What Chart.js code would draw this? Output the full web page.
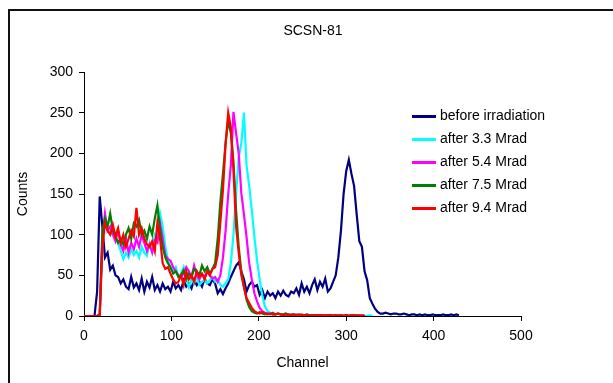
<!DOCTYPE html>
<html>
<head>
<meta charset="utf-8">
<script src="https://cdn.jsdelivr.net/npm/chart.js@4.4.1/dist/chart.umd.min.js"></script>
<style>
  html, body { margin: 0; padding: 0; overflow: hidden; background: #fff; font-family: 'Liberation Sans', Arial, sans-serif; }
  .wrap { position: relative; width: 613px; height: 383px; overflow: hidden; }
  .frame { position: absolute; left: 8px; top: 9px; width: 640px; height: 400px; border-left: 2px solid #111; border-top: 2px solid #111; border-right: none; border-bottom: none; }
  #myChart { position: absolute; left: 0; top: 0; }
  .title { position: absolute; left: 0; width: 626px; top: 22px; text-align: center; font-size: 14px; color: #000; }
  .legend { position: absolute; left: 412px; top: 104px; font-size: 14px; color: #000; }
  .legend div { height: 23px; line-height: 23px; white-space: nowrap; }
  .legend span { display: inline-block; width: 24px; height: 3px; vertical-align: middle; margin-right: 4px; }
</style>
</head>
<body>
<div class="wrap">
  <div class="frame"></div>
  <canvas id="myChart" width="613" height="383"></canvas>
  <div class="title">SCSN-81</div>
  <div class="legend" id="legend"></div>
</div>
<script>
// channel grid, step 3
const channels = [0, 3, 6, 9, 12, 15, 18, 21, 24, 27, 30, 33, 36, 39, 42, 45, 48, 51, 54, 57,
    60, 63, 66, 69, 72, 75, 78, 81, 84, 87, 90, 93, 96, 99, 102, 105, 108, 111, 114, 117,
    120, 123, 126, 129, 132, 135, 138, 141, 144, 147, 150, 153, 156, 159, 162, 165, 168, 171, 174, 177,
    180, 183, 186, 189, 192, 195, 198, 201, 204, 207, 210, 213, 216, 219, 222, 225, 228, 231, 234, 237,
    240, 243, 246, 249, 252, 255, 258, 261, 264, 267, 270, 273, 276, 279, 282, 285, 288, 291, 294, 297,
    300, 303, 306, 309, 312, 315, 318, 321, 324, 327, 330, 333, 336, 339, 342, 345, 348, 351, 354, 357,
    360, 363, 366, 369, 372, 375, 378, 381, 384, 387, 390, 393, 396, 399, 402, 405, 408, 411, 414, 417,
    420, 423, 426, 429]

const labels = ['before irradiation', 'after 3.3 Mrad', 'after 5.4 Mrad', 'after 7.5 Mrad', 'after 9.4 Mrad']
const colors = ['#000080', '#00FFFF', '#FF00FF', '#008000', '#FF0000']

const before = [0, 0, 0, 0, 0, 30, 147, 110, 72, 78,
    57, 62, 50, 48, 40, 45, 36, 33, 48, 35,
    40, 32, 46, 30, 42, 35, 48, 32, 38, 30,
    40, 33, 36, 30, 42, 34, 38, 32, 44, 36,
    40, 34, 45, 38, 42, 36, 46, 40, 38, 45,
    40, 28, 33, 27, 34, 40, 48, 55, 62, 66,
    55, 45, 30, 38, 42, 36, 38, 26, 32, 22,
    30, 25, 28, 22, 30, 25, 31, 26, 24, 30,
    28, 34, 26, 40, 30, 36, 28, 38, 45, 32,
    42, 36, 46, 30, 34, 42, 50, 72, 105, 150,
    178, 192, 175, 160, 125, 92, 85, 55, 44, 22,
    15, 9, 5, 3, 3, 4, 3, 2, 3, 3,
    2, 2, 3, 2, 1, 2, 2, 1, 2, 1,
    2, 1, 1, 2, 1, 1, 1, 2, 1, 1,
    2, 1, 2, 1]

const after33 = [0, 0, 0, 0, 0, 0, 2, 90, 122, 108,
    100, 104, 95, 90, 80, 70, 78, 72, 82, 75,
    80, 72, 85, 78, 74, 90, 82, 100, 95, 126,
    110, 85, 70, 58, 55, 60, 48, 52, 60, 45,
    35, 45, 40, 48, 38, 42, 45, 40, 44, 48,
    42, 45, 38, 36, 40, 45, 65, 100, 150, 195,
    212, 250, 185, 160, 130, 97, 68, 45, 25, 12,
    6, 4, 3, 2, 3, 2, 2, 3, 2, 1,
    2, 1, 2, 1, 1, 2, 1, 1, 1, 1,
    1, 1, 1, 0, 1, 1, 0, 1, 0, 1,
    0, 1, 0, 1, 0, 0, 1, 0, 0, 1,
    0]

const after54 = [0, 0, 0, 0, 0, 0, 2, 95, 126, 105,
    110, 100, 92, 105, 88, 80, 95, 78, 90, 82,
    95, 85, 100, 90, 80, 88, 78, 93, 90, 114,
    95, 75, 70, 68, 60, 55, 50, 48, 52, 60,
    55, 48, 62, 50, 45, 52, 48, 55, 50, 46,
    48, 42, 50, 72, 105, 150, 185, 251, 225, 200,
    151, 125, 97, 65, 45, 28, 18, 10, 6, 4,
    3, 3, 2, 2, 3, 2, 1, 2, 1, 1,
    1, 2, 1, 1, 1, 1, 1, 0, 1, 1,
    1, 0, 1, 1, 0, 1, 0, 1, 1, 0,
    1, 0, 1, 1, 0, 0, 1, 0]

const after75 = [0, 0, 0, 0, 0, 0, 2, 105, 120, 110,
    126, 105, 98, 90, 95, 88, 100, 108, 95, 114,
    110, 118, 100, 105, 95, 110, 100, 120, 136, 106,
    85, 72, 65, 60, 52, 55, 48, 50, 56, 45,
    52, 48, 58, 55, 50, 62, 55, 60, 52, 58,
    65, 95, 140, 175, 213, 240, 225, 190, 130, 85,
    55, 36, 20, 11, 6, 4, 3, 5, 3, 2,
    3, 2, 4, 2, 3, 2, 2, 3, 1, 2,
    2, 1, 2, 1, 1, 2, 1, 1, 1, 1,
    1, 1, 0, 1, 1, 0, 1, 0, 1, 0,
    1, 0, 1, 0, 1, 0, 0, 1]

const after94 = [0, 0, 0, 0, 0, 0, 0, 85, 114, 105,
    100, 112, 98, 108, 90, 100, 85, 95, 105, 98,
    133, 100, 108, 95, 88, 85, 92, 80, 115, 95,
    65, 58, 60, 52, 45, 40, 42, 50, 38, 55,
    45, 50, 42, 55, 48, 52, 45, 55, 50, 58,
    60, 75, 115, 155, 212, 250, 232, 180, 110, 78,
    50, 36, 22, 16, 10, 6, 4, 3, 5, 3,
    2, 3, 2, 2, 3, 2, 1, 2, 2, 1,
    2, 1, 1, 2, 1, 1, 1, 0, 1, 1,
    1, 1, 0, 1, 1, 0, 1, 0, 1, 0,
    1, 0, 1, 1, 0, 1, 0, 1]

const xTicks = [0, 100, 200, 300, 400, 500]
const yTicks = [0, 50, 100, 150, 200, 250, 300]

const series = [before, after33, after54, after75, after94]

function toPoints(values) {
    return values.map((v, i) => ({ x: channels[i], y: v }))
}

const datasets = series.map((values, i) => ({
    label: labels[i],
    data: toPoints(values),
    borderColor: colors[i],
    backgroundColor: colors[i],
    borderWidth: 2.2,
    pointRadius: 0,
    showLine: true,
    tension: 0,
    order: series.length - i
}))

// legend
const legend = document.getElementById('legend')
labels.forEach((l, i) => {
    const row = document.createElement('div')
    row.innerHTML = '<span style="background:' + colors[i] + '"></span>' + l
    legend.appendChild(row)
})

const font = { family: "'Liberation Sans', Arial", size: 14 }

const ctx = document.getElementById('myChart').getContext('2d')
const myChart = new Chart(ctx, {
    type: 'scatter',
    data: { datasets: datasets },
    options: {
        responsive: false,
        animation: false,
        layout: { padding: { left: 0, top: 72, right: 92, bottom: 0 } },
        plugins: {
            legend: { display: false },
            tooltip: { enabled: false }
        },
        scales: {
            x: {
                type: 'linear',
                min: 0,
                max: 500,
                afterBuildTicks: (axis) => { axis.ticks = xTicks.map(v => ({ value: v })) },
                afterFit: (axis) => { axis.height = 67 },
                ticks: { color: '#000', padding: 7, font: font },
                grid: { display: true, drawOnChartArea: false, drawTicks: true, tickLength: 5, color: '#000' },
                border: { display: true, color: '#000', width: 1 },
                title: { display: true, text: 'Channel', color: '#000', padding: { top: 0, bottom: 11 }, font: font }
            },
            y: {
                min: 0,
                max: 300,
                afterBuildTicks: (axis) => { axis.ticks = yTicks.map(v => ({ value: v })) },
                afterFit: (axis) => { axis.width = 84 },
                ticks: { color: '#000', padding: 6, font: font },
                grid: { display: true, drawOnChartArea: false, drawTicks: true, tickLength: 5, color: '#000' },
                border: { display: true, color: '#000', width: 1 },
                title: { display: true, text: 'Counts', color: '#000', padding: { top: 15, bottom: 0 }, font: font }
            }
        }
    }
})
</script>
</body>
</html>
